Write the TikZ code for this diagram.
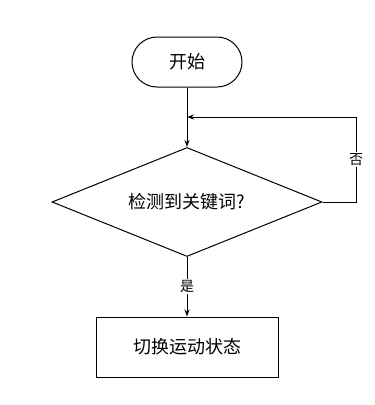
\documentclass[tikz,border=0pt]{standalone}
\usepackage{fontspec}
\setmainfont{Noto Sans CJK SC}
\usetikzlibrary{
    shapes.geometric,
    arrows.meta,
    positioning,
    calc,
}

\tikzset{
    flowline/.style={line width=1pt, -{Stealth[length=7pt, width=5pt]}},
    termbox/.style={rectangle, rounded corners=25pt, draw, line width=1pt, minimum width=110pt, minimum height=50pt},
    decide/.style={diamond, draw, line width=1pt, aspect=2.48, minimum width=270pt, minimum height=109pt, inner sep=0pt},
    actbox/.style={rectangle, draw, line width=1pt, minimum width=182pt, minimum height=60pt},
    edgelabel/.style={fill=white, inner sep=1.5pt, font=\fontsize{14pt}{16pt}\selectfont},
}

\begin{document}
\begin{tikzpicture}[x=1pt, y=-1pt, font=\fontsize{18pt}{21pt}\selectfont]
    \useasboundingbox (0,0) rectangle (375,405);
    \node[termbox] (start) at (187,62) {开始};
    \node[decide] (check) at (187,202) {检测到关键词?};
    \node[actbox] (switch) at (187,347) {切换运动状态};
    \coordinate (loopin) at (187,117);
    \coordinate (loopr) at (356,117);

    \draw[line width=1pt] (start.south) -- (loopin);
    \draw[flowline] (loopin) -- (check.north);
    \draw[flowline] (check.east) -- (check.east -| loopr)
        -- node[edgelabel, pos=0.5] {否} (loopr) -- (loopin);
    \draw[flowline] (check.south) -- node[edgelabel] {是} (switch.north);
\end{tikzpicture}
\end{document}
